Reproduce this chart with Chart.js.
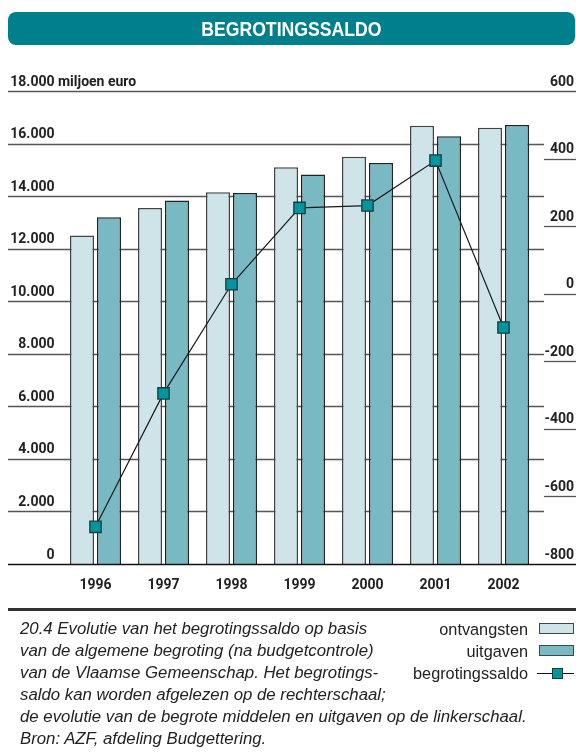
<!DOCTYPE html>
<html>
<head>
<meta charset="utf-8">
<script src="https://cdn.jsdelivr.net/npm/chart.js@4.4.0/dist/chart.umd.min.js"></script>
<style>
  html, body { margin: 0; padding: 0; background: #fff; }
  #wrap { position: relative; width: 576px; height: 754px; overflow: hidden; }
  #chart { position: absolute; left: 0; top: 0; }
  .banner {
    position: absolute; left: 8px; top: 12px; width: 567px; height: 33px;
    background: #00808c; border-radius: 8px; color: #fff; text-align: center;
    font: bold 21px/33px "Liberation Sans", Arial, sans-serif;
  }
  .banner span { display: inline-block; transform: scaleX(0.84); }
  .rule { position: absolute; left: 8px; top: 608px; width: 568px; height: 3px; background: #333; }
  .caption {
    position: absolute; left: 20px; top: 618px; color: #222;
    font: italic 16.8px/22px "Liberation Sans", Arial, sans-serif; white-space: nowrap;
  }
  .leg { position: absolute; right: 48px; height: 22px; color: #222;
    font: 16.3px/22px "Liberation Sans", Arial, sans-serif; }
  .box { position: absolute; left: 539px; width: 33px; height: 9px; border: 1px solid #444; }
  .lline { position: absolute; left: 537px; width: 37px; height: 1px; background: #111; }
  .lmark { position: absolute; left: 552px; width: 9px; height: 9px; background: #00959f; border: 1px solid #173c40; }
</style>
</head>
<body>
<div id="wrap">
  <canvas id="chart" width="576" height="754"></canvas>
  <div class="banner"><span>BEGROTINGSSALDO</span></div>
  <div class="rule"></div>
  <div class="caption">
    20.4 Evolutie van het begrotingssaldo op basis<br>
    van de algemene begroting (na budgetcontrole)<br>
    van de Vlaamse Gemeenschap. Het begrotings-<br>
    saldo kan worden afgelezen op de rechterschaal;<br>
    de evolutie van de begrote middelen en uitgaven op de linkerschaal.<br>
    Bron: AZF, afdeling Budgettering.
  </div>
  <div class="leg" style="top:618px">ontvangsten</div>
  <div class="box" style="top:623px; background:#cfe4e8"></div>
  <div class="leg" style="top:640px">uitgaven</div>
  <div class="box" style="top:645px; background:#79b9c3"></div>
  <div class="leg" style="top:662px">begrotingssaldo</div>
  <div class="lline" style="top:673px"></div>
  <div class="lmark" style="top:668px"></div>
</div>
<script>
  // data (miljoen euro)
  const years = ['1996', '1997', '1998', '1999', '2000', '2001', '2002'];
  const ontvangsten = [12500, 13550, 14150, 15100, 15500, 16680, 16600];
  const uitgaven = [13200, 13830, 14120, 14820, 15260, 16280, 16710];
  const begrotingssaldo = [-690, -295, 28, 254, 261, 394, -100];

  // axis ranges: [min, max, step]
  const leftAxis = [0, 18000, 2000];
  const rightAxis = [-800, 600, 200];
  const leftUnit = 'miljoen euro';

  const tickFont = { family: 'Roboto, "Liberation Sans", sans-serif', size: 14, weight: 'bold' };

  function fmt(v) {
    return String(v).replace(/\B(?=(\d{3})+(?!\d))/g, '.');
  }

  // grid lines across the whole width, right-scale underlines, unit text
  const framePlugin = {
    id: 'frame',
    beforeDatasetsDraw(chart) {
      const { ctx, scales: { y, y1 } } = chart;
      ctx.save();
      ctx.lineWidth = 1.3;
      ctx.strokeStyle = '#555';
      y.ticks.forEach(t => {
        if (t.value === y.min) return;
        const py = Math.round(y.getPixelForValue(t.value)) + 0.5;
        ctx.beginPath();
        ctx.moveTo(8, py);
        ctx.lineTo(t.value === y.max ? 576 : 544, py);
        ctx.stroke();
      });
      y1.ticks.forEach(t => {
        if (t.value === y1.min || t.value === y1.max) return;
        const py = Math.round(y1.getPixelForValue(t.value)) + 0.5;
        ctx.beginPath();
        ctx.moveTo(544, py);
        ctx.lineTo(576, py);
        ctx.stroke();
      });
      ctx.restore();
    },
    afterDatasetsDraw(chart) {
      const { ctx, scales: { y } } = chart;
      const py = Math.round(y.getPixelForValue(y.min)) + 0.5;
      ctx.save();
      ctx.lineWidth = 1.5;
      ctx.strokeStyle = '#111';
      ctx.beginPath();
      ctx.moveTo(8, py);
      ctx.lineTo(576, py);
      ctx.stroke();
      // unit after the top label
      ctx.font = 'bold 14px ' + tickFont.family;
      ctx.fillStyle = '#222';
      ctx.textAlign = 'left';
      ctx.textBaseline = 'middle';
      ctx.fillText(' ' + leftUnit, y.right - 7, y.getPixelForValue(y.max) - 9);
      ctx.restore();
    }
  };

  new Chart(document.getElementById('chart'), {
    type: 'bar',
    data: {
      labels: years,
      datasets: [
        {
          type: 'line',
          label: 'begrotingssaldo',
          data: begrotingssaldo,
          yAxisID: 'y1',
          order: 0,
          borderColor: '#1a1a1a',
          borderWidth: 1.2,
          tension: 0,
          pointStyle: 'rect',
          pointRadius: 8,
          pointBackgroundColor: '#00959f',
          pointBorderColor: '#173c40',
          pointBorderWidth: 1.3
        },
        {
          label: 'ontvangsten',
          data: ontvangsten,
          yAxisID: 'y',
          order: 1,
          backgroundColor: '#cfe4e8',
          borderColor: '#444',
          borderWidth: 1.5,
          categoryPercentage: 0.794,
          barPercentage: 0.889
        },
        {
          label: 'uitgaven',
          data: uitgaven,
          yAxisID: 'y',
          order: 1,
          backgroundColor: '#79b9c3',
          borderColor: '#222',
          borderWidth: 1.5,
          categoryPercentage: 0.794,
          barPercentage: 0.889
        }
      ]
    },
    options: {
      responsive: false,
      animation: false,
      layout: { padding: { left: 8, right: 2, top: 91, bottom: 150 } },
      plugins: {
        legend: { display: false },
        tooltip: { enabled: false }
      },
      scales: {
        x: {
          offset: true,
          grid: { display: false, drawTicks: false },
          border: { display: false },
          ticks: { font: tickFont, color: '#222', padding: 13 },
          afterFit: s => { s.height = 40; }
        },
        y: {
          position: 'left',
          min: leftAxis[0],
          max: leftAxis[1],
          grid: { display: false, drawTicks: false },
          border: { display: false },
          ticks: {
            stepSize: leftAxis[2],
            font: tickFont,
            color: '#222',
            padding: 7,
            crossAlign: 'near',
            labelOffset: -9,
            callback: v => fmt(v)
          },
          afterFit: s => { s.width = 53.5; }
        },
        y1: {
          position: 'right',
          min: rightAxis[0],
          max: rightAxis[1],
          grid: { display: false, drawTicks: false },
          border: { display: false },
          ticks: {
            stepSize: rightAxis[2],
            font: tickFont,
            color: '#222',
            padding: 0,
            crossAlign: 'far',
            labelOffset: -9,
            callback: v => String(v)
          },
          afterFit: s => { s.width = 36.5; }
        }
      }
    },
    plugins: [framePlugin]
  });
</script>
</body>
</html>
